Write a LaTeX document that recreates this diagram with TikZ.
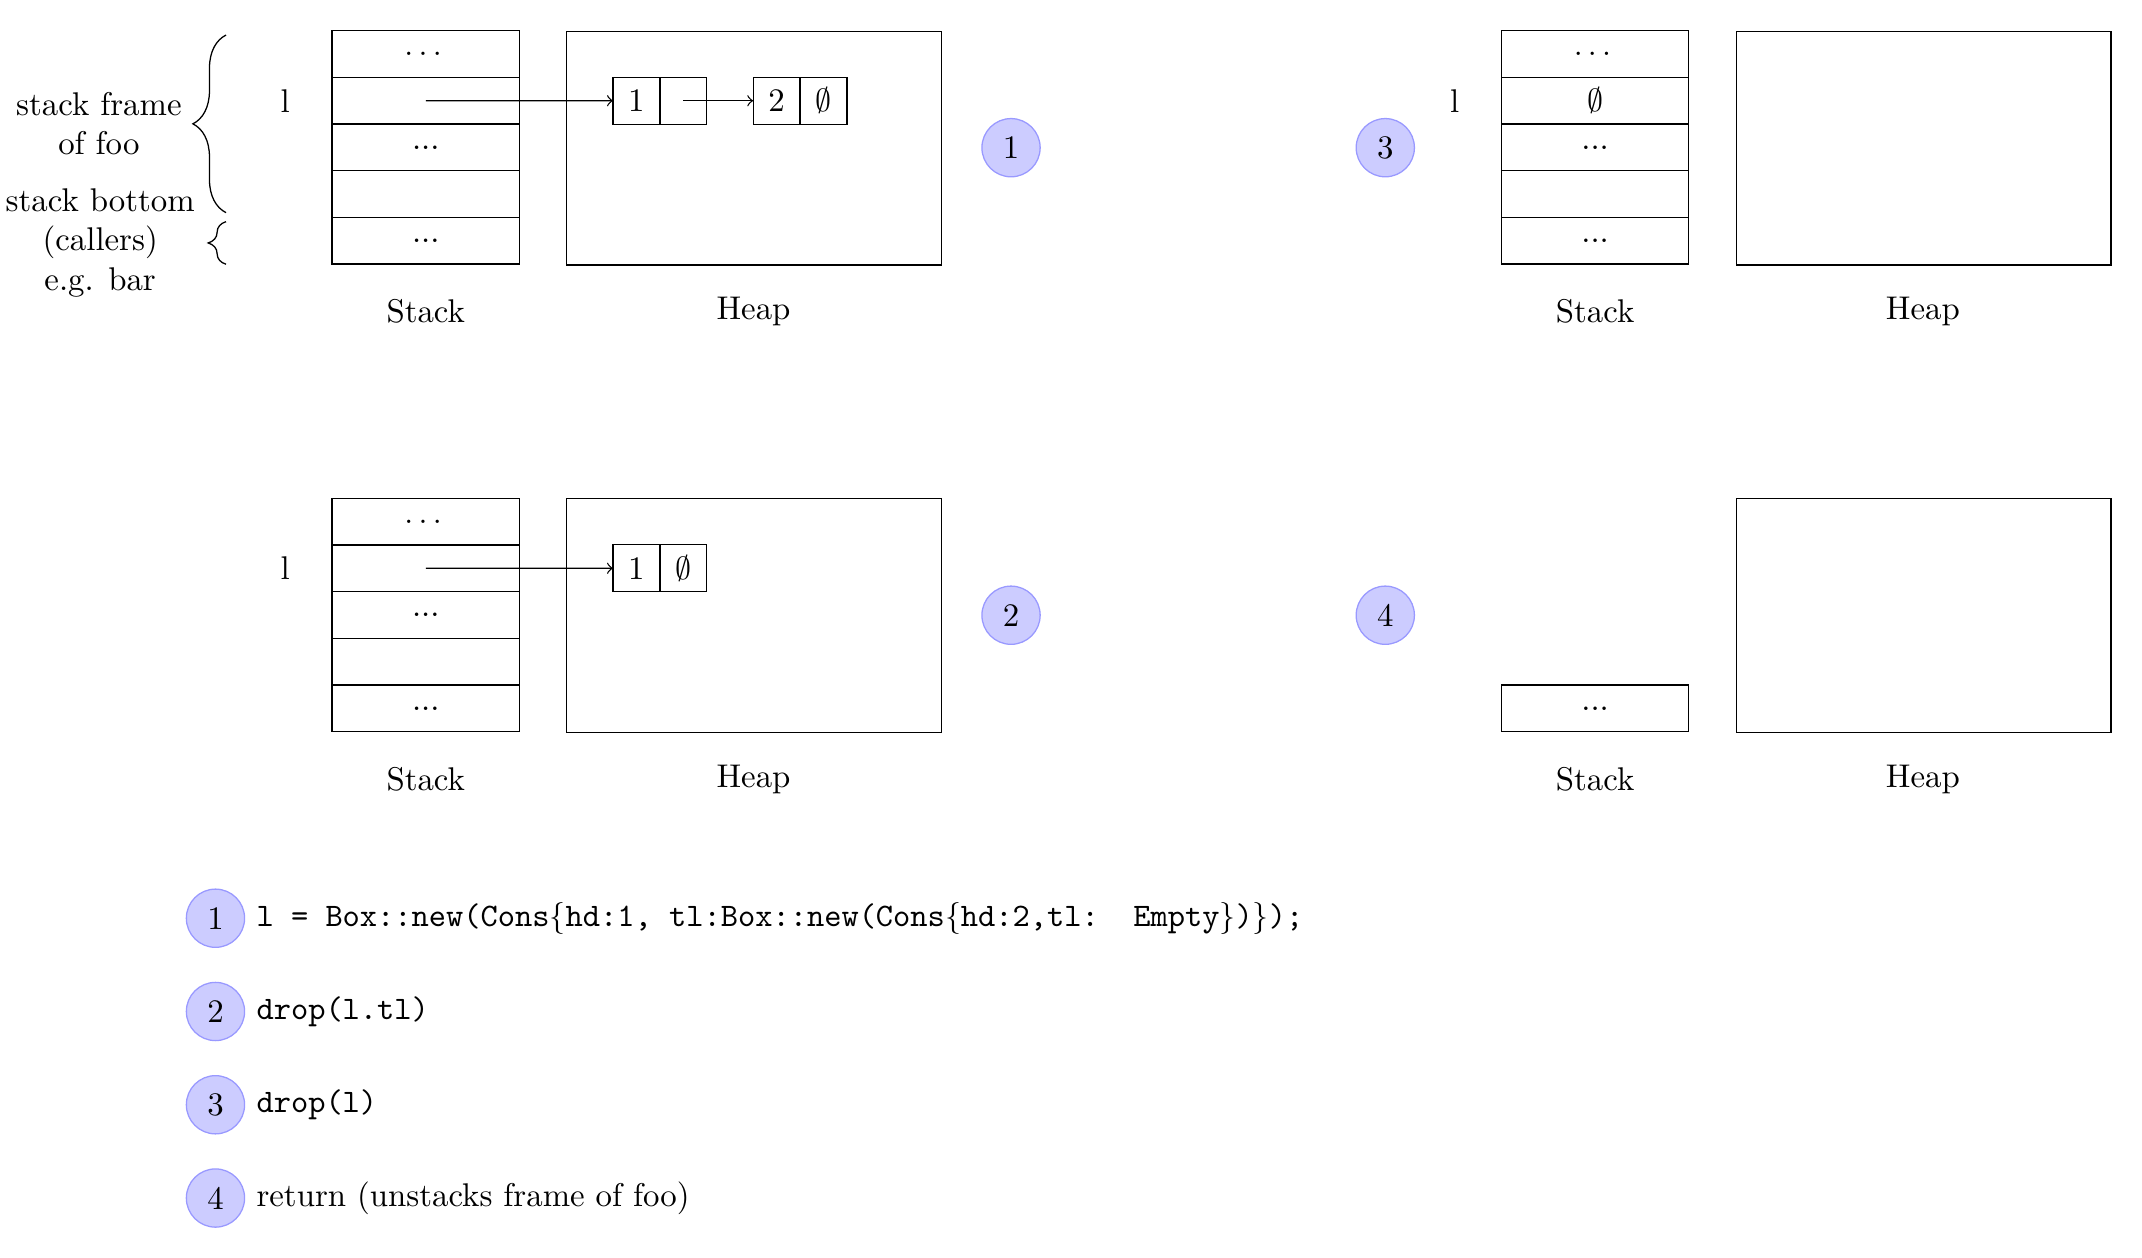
\documentclass[tikz,border=0pt]{standalone}
\usepackage{amsmath}
\usepackage{tikz}
\usetikzlibrary{positioning, decorations.pathreplacing}
\definecolor{StepFill}{HTML}{CCCCFF}
\definecolor{StepRim}{HTML}{9999FF}

\tikzset{
  slot/.style={draw, minimum width=2.06cm, minimum height=0.513cm, inner sep=0pt, outer sep=0pt},
  heap/.style={draw, minimum width=4.118cm, minimum height=2.567cm, anchor=north west},
  cell/.style={draw, minimum size=0.516cm, inner sep=0pt, outer sep=0pt},
  badge/.style={circle, fill=StepFill, draw=StepRim, minimum size=0.64cm, inner sep=0pt},
}

\begin{document}
\begin{tikzpicture}[font=\fontsize{10.27}{12.33}\selectfont]
  \useasboundingbox (0,0) rectangle (23.54,-13.825);

  % (1) after allocation
  \node[slot] (a1) at (4.679,-0.594) {$\dots$};
  \node[slot, below=0pt of a1] (a2) {};
  \node[slot, below=0pt of a2] (a3) {...};
  \node[slot, below=0pt of a3] (a4) {};
  \node[slot, below=0pt of a4] (a5) {...};
  \node[left=0.34cm of a2] (al) {l};
  \node[heap] (aheap) at (6.222,-0.337) {};
  \node[cell] (ahd1) at (6.994,-1.107) {1};
  \node[cell, right=0pt of ahd1] (atl1) {};
  \node[cell] (ahd2) at (8.535,-1.107) {2};
  \node[cell, right=0pt of ahd2] (atl2) {$\emptyset$};
  \node[badge] (astep) at (11.111,-1.623) {1};
  \node (astack) at (4.679,-3.425) {Stack};
  \node (aheaplbl) at (8.281,-3.425) {Heap};
  \draw[->] (a2.center) -- (ahd1.west);
  \draw[->] (atl1.center) -- (ahd2.west);

  \draw[decorate, decoration={brace, amplitude=0.364cm}] (2.484,-2.337) -- (2.484,-0.385)
    node[midway, left=0.364cm, align=center] (frame) {stack frame\\of foo};
  \draw[decorate, decoration={brace, amplitude=0.196cm}] (2.484,-2.904) -- (2.484,-2.436)
    node[midway, left=0.22cm, align=center] (callers) {stack bottom\\(callers)\\e.g. bar};

  % (2) after drop(l.tl)
  \begin{scope}[yshift=-5.138cm]
    \node[slot] (b1) at (4.679,-0.594) {$\dots$};
    \node[slot, below=0pt of b1] (b2) {};
    \node[slot, below=0pt of b2] (b3) {...};
    \node[slot, below=0pt of b3] (b4) {};
    \node[slot, below=0pt of b4] (b5) {...};
    \node[left=0.34cm of b2] (bl) {l};
    \node[heap] (bheap) at (6.222,-0.337) {};
    \node[cell] (bhd1) at (6.994,-1.107) {1};
    \node[cell, right=0pt of bhd1] (btl1) {$\emptyset$};
    \node[badge] (bstep) at (11.111,-1.623) {2};
    \node (bstack) at (4.679,-3.425) {Stack};
    \node (bheaplbl) at (8.281,-3.425) {Heap};
    \draw[->] (b2.center) -- (bhd1.west);
  \end{scope}

  % (3) after drop(l)
  \begin{scope}[xshift=12.851cm]
    \node[slot] (c1) at (4.679,-0.594) {$\dots$};
    \node[slot, below=0pt of c1] (c2) {$\emptyset$};
    \node[slot, below=0pt of c2] (c3) {...};
    \node[slot, below=0pt of c3] (c4) {};
    \node[slot, below=0pt of c4] (c5) {...};
    \node[left=0.34cm of c2] (cl) {l};
    \node[heap] (cheap) at (6.222,-0.337) {};
    \node[badge] (cstep) at (2.373,-1.623) {3};
    \node (cstack) at (4.679,-3.425) {Stack};
    \node (cheaplbl) at (8.281,-3.425) {Heap};
  \end{scope}

  % (4) after return
  \begin{scope}[xshift=12.851cm, yshift=-5.138cm]
    \node[slot] (d5) at (4.679,-2.647) {...};
    \node[heap] (dheap) at (6.222,-0.337) {};
    \node[badge] (dstep) at (2.373,-1.623) {4};
    \node (dstack) at (4.679,-3.425) {Stack};
    \node (dheaplbl) at (8.281,-3.425) {Heap};
  \end{scope}

  % legend
  \node[badge] (k1) at (2.368,-10.091) {1};
  \node[right=0pt of k1] (k1txt) {\texttt{l = Box::new(Cons$\{$hd:1, tl:Box::new(Cons$\{$hd:2,tl:\ \ Empty$\}$)$\}$);}};
  \node[badge] (k2) at (2.368,-11.116) {2};
  \node[right=0pt of k2] (k2txt) {\texttt{drop(l.tl)}};
  \node[badge] (k3) at (2.368,-12.141) {3};
  \node[right=0pt of k3] (k3txt) {\texttt{drop(l)}};
  \node[badge] (k4) at (2.368,-13.166) {4};
  \node[right=0pt of k4] (k4txt) {return (unstacks frame of foo)};
\end{tikzpicture}
\end{document}
